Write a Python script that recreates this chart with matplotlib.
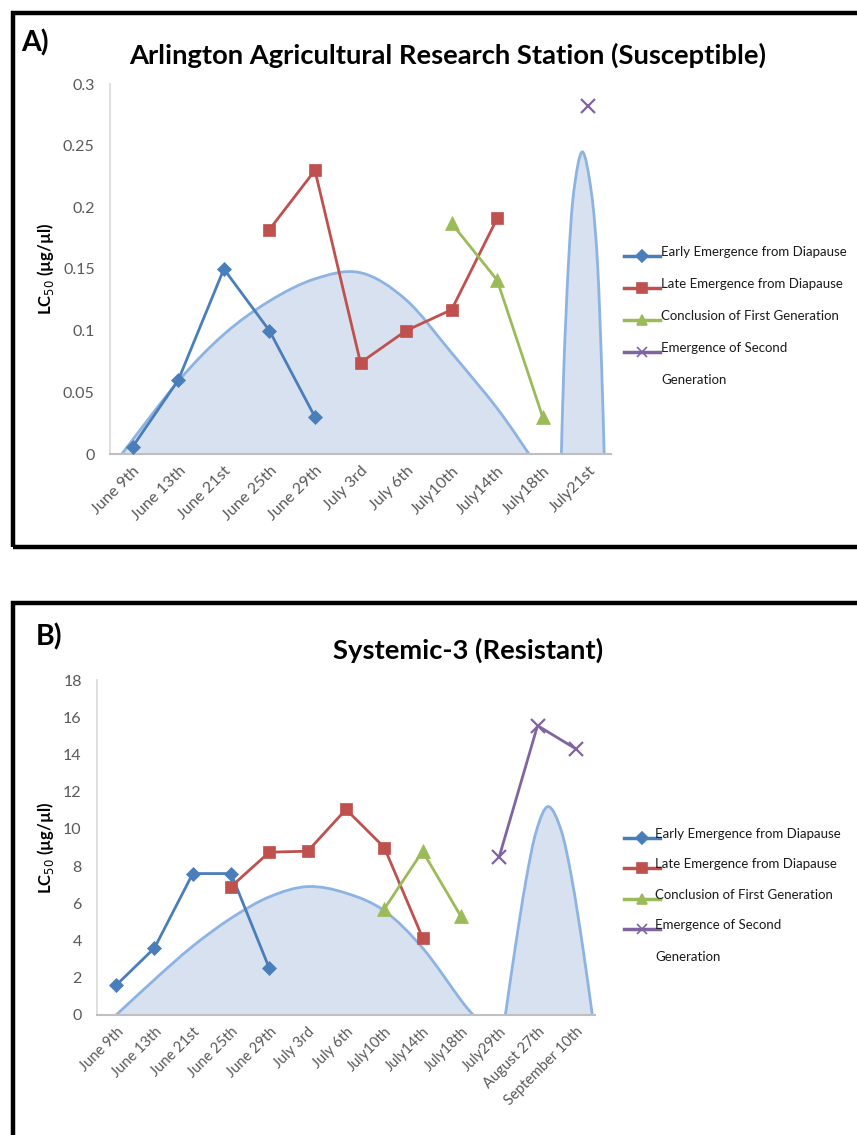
import numpy as np
import matplotlib
matplotlib.use("Agg")
import matplotlib.pyplot as plt
from matplotlib.path import Path
from matplotlib.patches import PathPatch, Rectangle
from matplotlib.lines import Line2D

plt.rcParams['font.family'] = ['Lato', 'DejaVu Sans']

nan = np.nan

# ---- panel A data ----
dates_a = ["June 9th", "June 13th", "June 21st", "June 25th", "June 29th", "July 3rd",
           "July 6th", "July10th", "July14th", "July18th", "July21st"]
early_a = [0.006, 0.06, 0.15, 0.1, 0.03, nan, nan, nan, nan, nan, nan]
late_a = [nan, nan, nan, 0.182, 0.23, 0.074, 0.1, 0.117, 0.191, nan, nan]
concl_a = [nan, nan, nan, nan, nan, nan, nan, 0.187, 0.141, 0.03, nan]
second_a = [nan, nan, nan, nan, nan, nan, nan, nan, nan, nan, 0.282]

# generation humps (x in category index units)
hump_a1_x = [-0.24, 1, 2, 3, 4, 5, 6, 7, 8, 8.7]
hump_a1_y = [0, 0.059, 0.097, 0.124, 0.142, 0.147, 0.125, 0.082, 0.037, 0]
hump_a2_x = [9.41, 9.47, 9.57, 9.68, 9.87, 10.07, 10.2, 10.29, 10.35]
hump_a2_y = [0, 0.076, 0.157, 0.212, 0.245, 0.212, 0.157, 0.076, 0]

# ---- panel B data ----
dates_b = ["June 9th", "June 13th", "June 21st", "June 25th", "June 29th", "July 3rd",
           "July 6th", "July10th", "July14th", "July18th", "July29th", "August 27th",
           "September 10th"]
early_b = [1.6, 3.6, 7.6, 7.6, 2.5, nan, nan, nan, nan, nan, nan, nan, nan]
late_b = [nan, nan, nan, 6.9, 8.75, 8.8, 11.05, 9.0, 4.15, nan, nan, nan, nan]
concl_b = [nan, nan, nan, nan, nan, nan, nan, 5.7, 8.8, 5.3, nan, nan, nan]
second_b = [nan, nan, nan, nan, nan, nan, nan, nan, nan, nan, 8.5, 15.55, 14.3]

hump_b1_x = [0, 1, 2, 3, 4, 5, 6, 7, 8, 9, 9.32]
hump_b1_y = [0, 1.9, 3.7, 5.2, 6.35, 6.9, 6.55, 5.6, 3.6, 0.8, 0]
hump_b2_x = [10.16, 10.42, 10.7, 10.97, 11.28, 11.62, 11.9, 12.18, 12.43]
hump_b2_y = [0, 3.66, 7.26, 9.9, 11.2, 9.9, 7.26, 3.66, 0]

series_names = ["Early Emergence from Diapause", "Late Emergence from Diapause",
                "Conclusion of First Generation", "Emergence of Second"]
colors = ["#4a7ebb", "#c0504d", "#9bbb59", "#8064a2"]
markers = ["D", "s", "^", "x"]
msizes = [7.5, 9, 9.5, 10]

W, H = 857, 1135
fig = plt.figure(figsize=(W / 100, H / 100), dpi=100)


def fx(px):
    return px / W


def fy(py):
    return 1 - py / H


def smooth_path(xs, ys):
    # catmull-rom through the read points, drawn as bezier segments
    pts = np.column_stack([xs, ys]).astype(float)
    ext = np.vstack([pts[0], pts, pts[-1]])
    verts = [pts[0]]
    codes = [Path.MOVETO]
    for i in range(1, len(ext) - 2):
        p0, p1, p2, p3 = ext[i - 1], ext[i], ext[i + 1], ext[i + 2]
        verts += [p1 + (p2 - p0) / 6, p2 - (p3 - p1) / 6, p2]
        codes += [Path.CURVE4] * 3
    return verts, codes


def draw_hump(ax, xs, ys):
    verts, codes = smooth_path(xs, ys)
    fill_path = Path(verts + [verts[0], verts[0]], codes + [Path.LINETO, Path.CLOSEPOLY])
    ax.add_patch(PathPatch(fill_path, facecolor="#d7e1f0", edgecolor="none", zorder=1))
    ax.add_patch(PathPatch(Path(verts, codes), facecolor="none", edgecolor="#8db3e2",
                           lw=2.0, zorder=2, capstyle="round"))


def style_axes(ax, labels, ymax, ystep, fmt, xfs):
    n = len(labels)
    ax.set_xlim(-0.5, n - 0.5)
    ax.set_ylim(0, ymax)
    ax.set_xticks(range(n))
    ax.set_xticklabels(labels, rotation=45, ha="right", rotation_mode="anchor",
                       fontsize=xfs, color="#595959")
    yt = np.arange(0, ymax + ystep / 2, ystep)
    ax.set_yticks(yt)
    ax.set_yticklabels([fmt(v) for v in yt], fontsize=11.5, color="#595959")
    ax.tick_params(length=0)
    ax.tick_params(axis="y", pad=11)
    ax.tick_params(axis="x", pad=7)
    for s in ["top", "right"]:
        ax.spines[s].set_visible(False)
    ax.spines["left"].set_color("#d9d9d9")
    ax.spines["bottom"].set_color("#bfbfbf")
    ax.spines["left"].set_linewidth(1.2)
    ax.spines["bottom"].set_linewidth(1.5)
    ax.set_ylabel("LC$_{50}$ (µg/µl)", fontsize=12, fontweight="bold", labelpad=5)


def draw_series(ax, data):
    x = np.arange(len(data[0]))
    for vals, c, m, ms in zip(data, colors, markers, msizes):
        ax.plot(x, vals, color=c, lw=2, marker=m, markersize=ms,
                markeredgewidth=1.6 if m == "x" else 0.5, zorder=3)


def draw_legend(x0, ys, gen_y, text_dx):
    for name, c, m, ms, y in zip(series_names, colors, markers, msizes, ys):
        fig.add_artist(Line2D([fx(x0), fx(x0 + 36)], [fy(y), fy(y)], color=c, lw=2.5,
                              transform=fig.transFigure))
        fig.add_artist(Line2D([fx(x0 + 18)], [fy(y)], color=c, marker=m,
                              markersize=ms * 0.75, markeredgewidth=1.2,
                              transform=fig.transFigure))
        fig.text(fx(x0 + text_dx), fy(y - 4), name, fontsize=9.5, va="center", ha="left",
                 color="#1a1a1a")
    fig.text(fx(x0 + text_dx), fy(gen_y), "Generation", fontsize=9.5, va="center",
             ha="left", color="#1a1a1a")


# ---- panel A ----
fig.add_artist(Rectangle((fx(13), fy(547)), 1.2, fy(13) - fy(547), fill=False,
                         edgecolor="black", lw=3.2, transform=fig.transFigure))
fig.text(fx(21), fy(43), "A)", fontsize=20.5, fontweight="bold", va="center")
fig.text(fx(448), fy(55), "Arlington Agricultural Research Station (Susceptible)",
         fontsize=19.7, fontweight="bold", ha="center", va="center")

ax1 = fig.add_axes([fx(110), fy(454), fx(611) - fx(110), fy(84) - fy(454)])
draw_hump(ax1, hump_a1_x, hump_a1_y)
draw_hump(ax1, hump_a2_x, hump_a2_y)
draw_series(ax1, [early_a, late_a, concl_a, second_a])
style_axes(ax1, dates_a, 0.3, 0.05, lambda v: "0" if v == 0 else ("%.2f" % v).rstrip("0"),
           11.5)
draw_legend(624, [256, 288, 320, 352], 380, 37)

# ---- panel B ----
fig.add_artist(Rectangle((fx(13), fy(1300)), 1.2, fy(603) - fy(1300), fill=False,
                         edgecolor="black", lw=3.2, transform=fig.transFigure))
fig.text(fx(36), fy(637), "B)", fontsize=20.5, fontweight="bold", va="center")
fig.text(fx(468), fy(650), "Systemic-3 (Resistant)", fontsize=19.7, fontweight="bold",
         ha="center", va="center")

ax2 = fig.add_axes([fx(97), fy(1015), fx(595) - fx(97), fy(680) - fy(1015)])
draw_hump(ax2, hump_b1_x, hump_b1_y)
draw_hump(ax2, hump_b2_x, hump_b2_y)
draw_series(ax2, [early_b, late_b, concl_b, second_b])
style_axes(ax2, dates_b, 18, 2, lambda v: "%d" % v, 10.5)
draw_legend(624, [838, 868, 899, 929], 957, 31)

fig.savefig("out.png", dpi=100)
